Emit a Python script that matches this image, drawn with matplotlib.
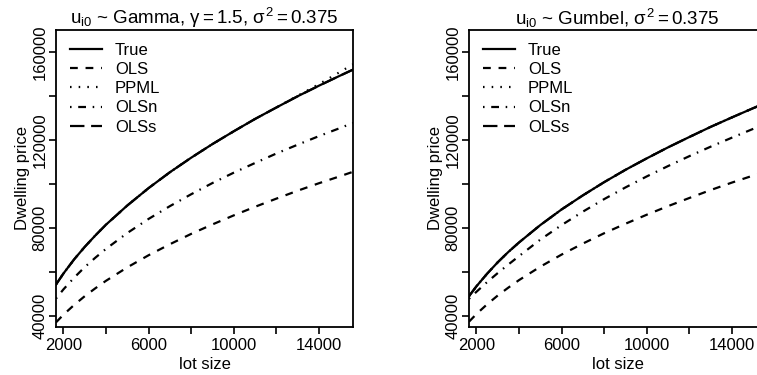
import matplotlib
matplotlib.use("Agg")
import matplotlib.pyplot as plt

plt.rcParams['font.family'] = ['Liberation Sans', 'DejaVu Sans']
plt.rcParams['mathtext.fontset'] = 'custom'
plt.rcParams['mathtext.rm'] = 'Liberation Sans'
plt.rcParams['mathtext.it'] = 'Liberation Sans'
plt.rcParams['mathtext.bf'] = 'Liberation Sans:bold'

# lot size grid
lot = [1650, 2000, 2500, 3000, 3500, 4000, 5000, 6000, 7000, 8000,
       9000, 10000, 11000, 12000, 13000, 14000, 15000, 15600]

# Gamma errors
gamma_true = [54300, 59300, 65700, 71400, 76600, 81500, 90200, 98100, 105300, 111900,
              118100, 123900, 129500, 134700, 139800, 144600, 149200, 151900]
gamma_ols = [37100, 40600, 45000, 49000, 52600, 56000, 62100, 67600, 72600, 77300,
             81600, 85700, 89600, 93300, 96900, 100300, 103500, 105500]
gamma_ppml = [54300, 59300, 65700, 71400, 76600, 81500, 90200, 98100, 105300, 111900,
              118100, 123900, 129500, 134700, 140000, 145300, 150900, 154300]
gamma_olsn = [47900, 52100, 57400, 62200, 66500, 70500, 77700, 84100, 89900, 95300,
              100400, 105100, 109500, 113800, 117800, 121700, 125400, 127700]
gamma_olss = [54300, 59300, 65700, 71400, 76600, 81500, 90200, 98100, 105300, 111900,
              118100, 123900, 129500, 134700, 139800, 144600, 149200, 151900]

# Gumbel errors
gumbel_true = [49000, 53500, 59200, 64400, 69100, 73400, 81300, 88400, 94800, 100800,
               106400, 111600, 116600, 121300, 125900, 130200, 134400, 136800]
gumbel_ols = [37400, 40900, 45300, 49300, 52900, 56300, 62400, 67900, 72900, 77600,
              81900, 86000, 89900, 93600, 97200, 100600, 103800, 105800]
gumbel_ppml = [49000, 53500, 59200, 64400, 69100, 73400, 81300, 88400, 94800, 100800,
               106400, 111600, 116600, 121300, 125900, 130200, 134400, 136800]
gumbel_olsn = [47800, 51000, 55400, 59500, 63400, 67200, 74700, 81300, 87400, 93100,
               98400, 103400, 108100, 112600, 116900, 121000, 125000, 127400]
gumbel_olss = [49000, 53500, 59200, 64400, 69100, 73400, 81300, 88400, 94800, 100800,
               106400, 111600, 116600, 121300, 125900, 130200, 134400, 136800]

labels = ["True", "OLS", "PPML", "OLSn", "OLSs"]
styles = [dict(linestyle='-'),
          dict(dashes=(3.5, 3.5)),
          dict(dashes=(0.7, 3.2)),
          dict(dashes=(0.7, 3.0, 3.5, 3.0)),
          dict(dashes=(6.5, 3.0))]

panels = [
    (r"$\mathrm{u_{i0}}$ ~ Gamma, $\gamma = 1.5$, $\sigma^2 = 0.375$",
     [gamma_true, gamma_ols, gamma_ppml, gamma_olsn, gamma_olss]),
    (r"$\mathrm{u_{i0}}$ ~ Gumbel, $\sigma^2 = 0.375$",
     [gumbel_true, gumbel_ols, gumbel_ppml, gumbel_olsn, gumbel_olss]),
]

fig = plt.figure(figsize=(7.57, 3.75), dpi=100)
W, H = 757.0, 375.0
lefts = [56, 469]

for left, (title, series) in zip(lefts, panels):
    ax = fig.add_axes([left / W, 48 / H, 297 / W, 297 / H])
    for ys, lab, st in zip(series, labels, styles):
        ax.plot(lot, ys, color='black', lw=1.6, label=lab, **st)

    ax.set_xlim(1650, 15600)
    ax.set_ylim(35000, 169900)
    ax.set_xticks(range(2000, 14001, 2000))
    ax.set_xticklabels([str(v) if v in (2000, 6000, 10000, 14000) else "" for v in range(2000, 14001, 2000)])
    ax.set_yticks(range(40000, 160001, 20000))
    ax.set_yticklabels([str(v) if v % 40000 == 0 else "" for v in range(40000, 160001, 20000)])
    ax.tick_params(length=5, width=1.2, labelsize=12, pad=1, colors='black')
    ax.tick_params(axis='x', pad=3)
    plt.setp(ax.get_yticklabels(), rotation=90, va='center')
    for sp in ax.spines.values():
        sp.set_linewidth(1.3)

    ax.set_xlabel("lot size", fontsize=12, labelpad=3)
    ax.set_ylabel("Dwelling price", fontsize=12, labelpad=2)
    ax.set_title(title, fontsize=13.5, pad=2)

    ax.legend(loc='upper left', bbox_to_anchor=(14 / 297, 1 - 13 / 297), frameon=False,
              fontsize=12, handlelength=1.9, handletextpad=0.8, labelspacing=0.25,
              borderaxespad=0, borderpad=0)

fig.savefig("out.png", dpi=100)
